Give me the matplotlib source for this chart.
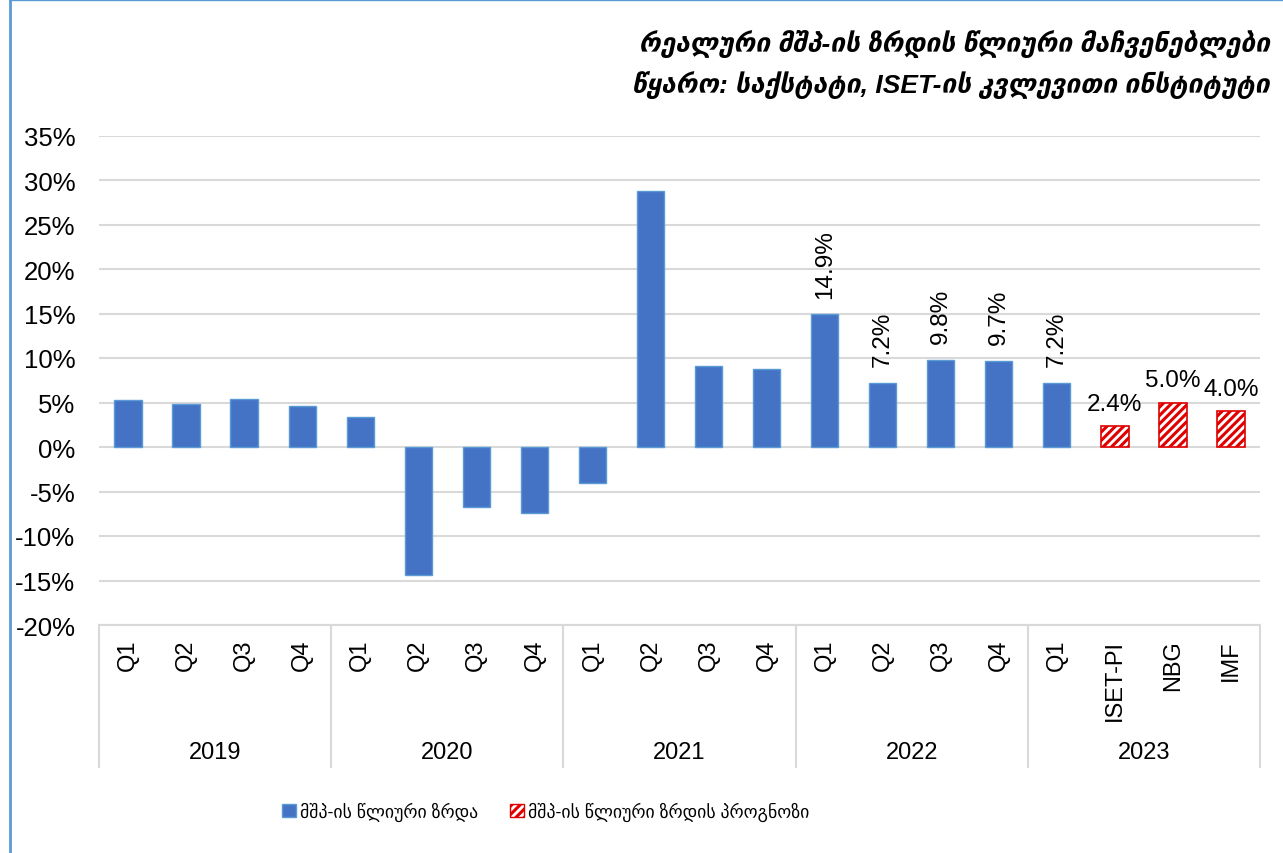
import matplotlib
matplotlib.use('Agg')
import matplotlib.pyplot as plt
from matplotlib.patches import Patch
from matplotlib.lines import Line2D

# data
years = ['2019', '2020', '2021', '2022', '2023']
quarters = ['Q1', 'Q2', 'Q3', 'Q4',
            'Q1', 'Q2', 'Q3', 'Q4',
            'Q1', 'Q2', 'Q3', 'Q4',
            'Q1', 'Q2', 'Q3', 'Q4',
            'Q1']
growth = [5.3, 4.8, 5.4, 4.6,
          3.4, -14.4, -6.7, -7.4,
          -4.1, 28.8, 9.1, 8.8,
          14.9, 7.2, 9.8, 9.7,
          7.2]
forecast_labels = ['ISET-PI', 'NBG', 'IMF']
forecast = [2.4, 5.0, 4.0]
labelled = [12, 13, 14, 15, 16]  # bars with value labels

title1 = 'რეალური მშპ-ის ზრდის წლიური მაჩვენებლები'
title2 = 'წყარო: საქსტატი, ISET-ის კვლევითი ინსტიტუტი'
legend_names = ['მშპ-ის წლიური ზრდა', 'მშპ-ის წლიური ზრდის პროგნოზი']

plt.rcParams['font.family'] = ['Liberation Sans', 'DejaVu Sans']
plt.rcParams['hatch.linewidth'] = 2.2

blue = '#4472C4'
red = '#E00000'
grid_c = '#D9D9D9'

fig = plt.figure(figsize=(12.83, 8.54), dpi=100)
ax = fig.add_axes([99/1283, 1-626/854, (1260-99)/1283, (626-136.5)/854])

xq = list(range(len(growth)))
xf = list(range(len(growth), len(growth) + len(forecast)))

ax.bar(xq, growth, width=0.47, color=blue, edgecolor='#5B9BD5', linewidth=1, zorder=3)
ax.bar(xf, forecast, width=0.47, color='white', edgecolor=red, hatch='////', linewidth=1.2, zorder=3)

for i in labelled:
    ax.annotate(f'{growth[i]:.1f}%', (xq[i], growth[i]), xytext=(0, 12), textcoords='offset points',
                rotation=90, ha='center', va='bottom', fontsize=17.5, zorder=4)
for x, v in zip(xf, forecast):
    ax.annotate(f'{v:.1f}%', (x, v), xytext=(0, 8), textcoords='offset points',
                ha='center', va='bottom', fontsize=17.5, zorder=4)

ax.set_xlim(-0.5, len(xq) + len(xf) - 0.5)
ax.set_ylim(-20, 35)
ax.set_yticks(range(-20, 36, 5))
ax.set_yticklabels([f'{t}%' for t in range(-20, 36, 5)], fontsize=18.5)
ax.yaxis.grid(True, color=grid_c, linewidth=1.5, zorder=0)
ax.tick_params(axis='y', length=0, pad=17)

ax.set_xticks(xq + xf)
ax.set_xticklabels(quarters + forecast_labels, rotation=90, fontsize=17, va='top')
ax.tick_params(axis='x', length=0, pad=10)

for s in ['top', 'right', 'left']:
    ax.spines[s].set_visible(False)
ax.spines['bottom'].set_color(grid_c)
ax.spines['bottom'].set_linewidth(1.5)

# year groups below the axis
tr = ax.get_xaxis_transform()
n_per_year = [4, 4, 4, 4, 4]
start = -0.5
ax.plot([start, start], [0, -0.29], transform=tr, color=grid_c, lw=1.5, clip_on=False)
for yr, n in zip(years, n_per_year):
    end = start + n
    ax.plot([end, end], [0, -0.29], transform=tr, color=grid_c, lw=1.5, clip_on=False)
    ax.text((start + end) / 2, -0.259, yr, transform=tr, ha='center', va='center', fontsize=17)
    start = end

# title
fig.text(0.990, 1-45/854, title1, ha='right', va='center', fontsize=19, style='italic', fontweight='bold')
fig.text(0.990, 1-85/854, title2, ha='right', va='center', fontsize=19, style='italic', fontweight='bold')

handles = [Patch(facecolor=blue, edgecolor='#5B9BD5'),
           Patch(facecolor='white', edgecolor=red, hatch='////')]
fig.legend(handles, legend_names, loc='center', bbox_to_anchor=(546/1283, 1-812/854), ncol=2,
           frameon=False, fontsize=12.8, handlelength=0.75, handleheight=0.75,
           handletextpad=0.25, columnspacing=1.8)

# chart border (left and top)
fig.add_artist(Line2D([10/1283, 10/1283], [0, 1], color='#5B9BD5', lw=2))
fig.add_artist(Line2D([10/1283, 1], [0.999, 0.999], color='#5B9BD5', lw=1))

fig.savefig('out.png', dpi=100)
